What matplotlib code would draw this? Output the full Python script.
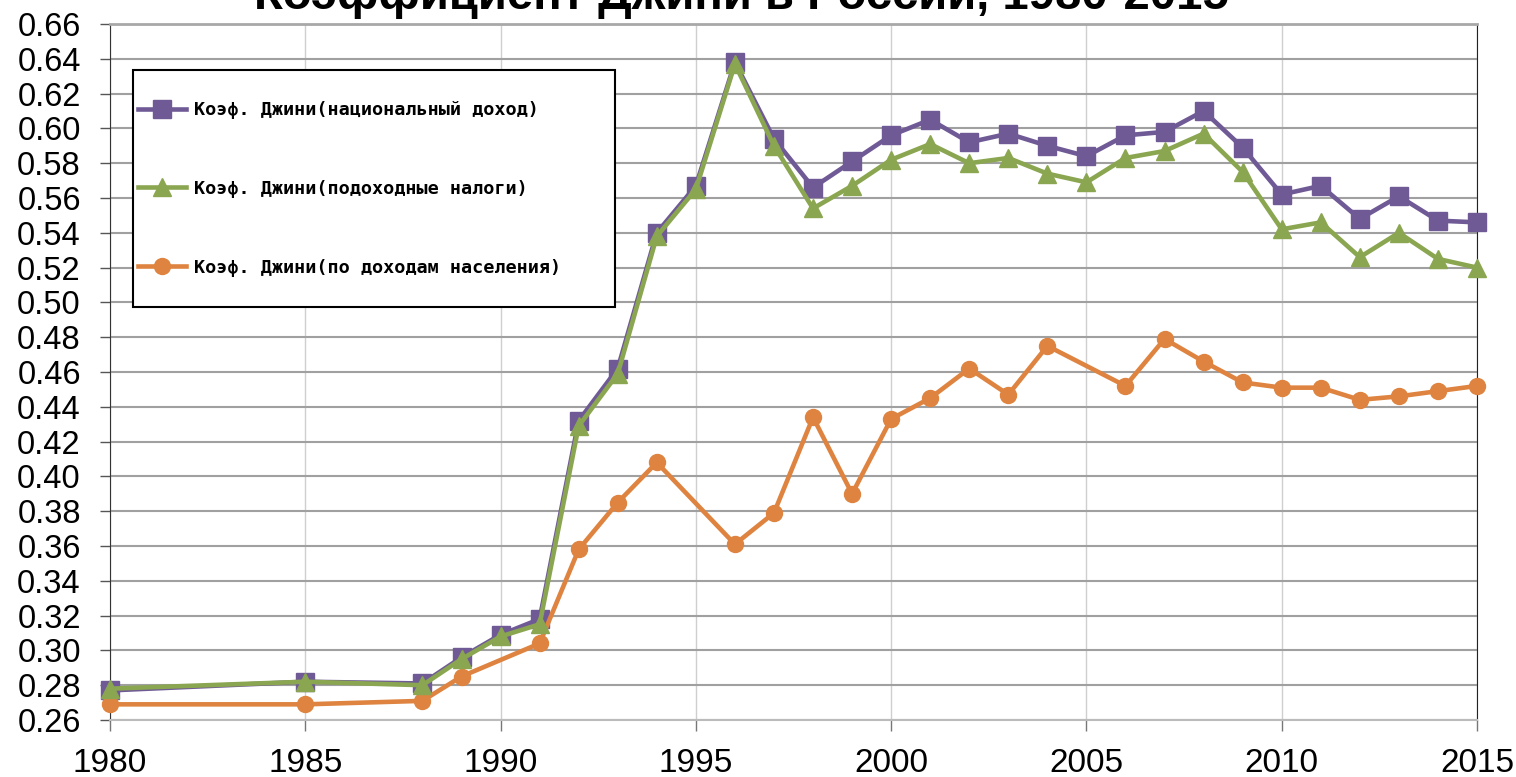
import matplotlib
matplotlib.use("Agg")
import matplotlib.pyplot as plt
from matplotlib.patches import Rectangle
import numpy as np

# ***** data *****
years = [1980, 1985, 1988, 1989, 1990, 1991, 1992, 1993, 1994, 1995, 1996,
         1997, 1998, 1999, 2000, 2001, 2002, 2003, 2004, 2005, 2006, 2007,
         2008, 2009, 2010, 2011, 2012, 2013, 2014, 2015]

gini_national = [0.277, 0.282, 0.281, 0.296, 0.309, 0.318, 0.432, 0.462, 0.540, 0.567, 0.638,
                 0.594, 0.566, 0.581, 0.596, 0.605, 0.592, 0.597, 0.590, 0.584, 0.596, 0.598,
                 0.610, 0.589, 0.562, 0.567, 0.548, 0.561, 0.547, 0.546]

gini_taxes = [0.278, 0.282, 0.280, 0.295, 0.308, 0.315, 0.429, 0.459, 0.538, 0.565, 0.637,
              0.590, 0.554, 0.567, 0.582, 0.591, 0.580, 0.583, 0.574, 0.569, 0.583, 0.587,
              0.597, 0.575, 0.542, 0.546, 0.526, 0.540, 0.525, 0.520]

# population income series has no 1990, 1995, 2005 points
years_pop = [1980, 1985, 1988, 1989, 1991, 1992, 1993, 1994, 1996, 1997, 1998,
             1999, 2000, 2001, 2002, 2003, 2004, 2006, 2007, 2008, 2009, 2010,
             2011, 2012, 2013, 2014, 2015]
gini_population = [0.269, 0.269, 0.271, 0.285, 0.304, 0.358, 0.385, 0.408, 0.361, 0.379, 0.434,
                   0.390, 0.433, 0.445, 0.462, 0.447, 0.475, 0.452, 0.479, 0.466, 0.454, 0.451,
                   0.451, 0.444, 0.446, 0.449, 0.452]

labels = ["Коэф. Джини(национальный доход)",
          "Коэф. Джини(подоходные налоги)",
          "Коэф. Джини(по доходам населения)"]
title = "Коэффициент Джини в России, 1980-2015"

col_purple = "#6F5A96"
col_green = "#8AA650"
col_orange = "#DE8440"

plt.rcParams["font.family"] = ["Liberation Sans", "DejaVu Sans"]

W, H = 1516, 777
fig = plt.figure(figsize=(W / 100, H / 100), dpi=100)
ax = fig.add_axes([110 / W, 1 - 720 / H, (1477 - 110) / W, (720 - 24) / H])

ax.plot(years, gini_national, color=col_purple, lw=3.3, marker="s", ms=13,
        label=labels[0], zorder=3, clip_on=False)
ax.plot(years, gini_taxes, color=col_green, lw=3.3, marker="^", ms=12.5,
        label=labels[1], zorder=4, clip_on=False)
ax.plot(years_pop, gini_population, color=col_orange, lw=3.3, marker="o", ms=11.5,
        label=labels[2], zorder=3, clip_on=False)

ax.set_xlim(1980, 2015)
ax.set_ylim(0.26, 0.66)
ax.set_xticks(range(1980, 2016, 5))
ax.set_yticks(np.arange(0.26, 0.661, 0.02))
ax.yaxis.set_major_formatter(matplotlib.ticker.FormatStrFormatter("%.2f"))

ax.tick_params(axis="y", length=7, width=1, color="#555555", labelsize=23.5, pad=14)
ax.tick_params(axis="x", length=8, width=1, color="#777777", labelsize=24, pad=12)

ax.grid(axis="y", color="#a0a0a0", lw=1.5)
ax.grid(axis="x", color="#cfcfcf", lw=1)
ax.set_axisbelow(True)

ax.spines["left"].set_color("#333333")
ax.spines["right"].set_color("#222222")
ax.spines["top"].set_color("#a8a8a8")
ax.spines["top"].set_linewidth(2)
ax.spines["bottom"].set_color("#bbbbbb")
ax.spines["bottom"].set_linewidth(1.5)

# legend box, drawn separately so its padding can match the reference
box = Rectangle((133 / W, 1 - 307 / H), (615 - 133) / W, (307 - 70) / H,
                transform=fig.transFigure, facecolor="white", edgecolor="black",
                lw=1.5, zorder=5)
fig.add_artist(box)

leg = fig.legend(loc="upper left", bbox_to_anchor=(138 / W, 1 - 101 / H),
                 frameon=False,
                 prop={"family": "DejaVu Sans Mono", "weight": "bold", "size": 13.3},
                 labelspacing=3.3, borderpad=0, handlelength=2.6, handletextpad=0.45,
                 borderaxespad=0)
leg.set_zorder(6)

fig.text(741 / W, 1 - 9 / H, title, ha="center", va="baseline",
         fontsize=34, fontweight="bold")

fig.savefig("out.png", dpi=100)
